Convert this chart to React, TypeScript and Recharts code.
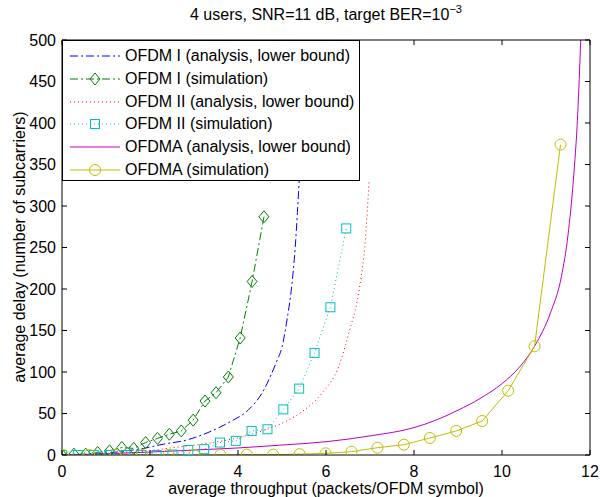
import React from 'react';
import { LineChart, Line, XAxis, YAxis, Legend } from 'recharts';

// values
const ofdm1AnaX = [0, 0.7, 1.3, 1.85, 2.3, 2.83, 3.36, 3.82, 4.23, 4.55, 4.88, 5.0, 5.12, 5.22, 5.3, 5.35, 5.39];
const ofdm1AnaY = [0, 1, 4, 8, 13, 18, 28, 40, 54, 75, 113, 130, 165, 203, 250, 292, 330];

const ofdm1SimX = [0, 0.27, 0.54, 0.81, 1.08, 1.36, 1.63, 1.9, 2.17, 2.44, 2.71, 2.98, 3.25, 3.5, 3.78, 4.05, 4.32, 4.59];
const ofdm1SimY = [0, 1, 1, 3, 5, 9, 8, 15, 20, 25, 29, 42, 65, 75, 94, 141, 209, 287];

const ofdm2AnaX = [0, 1, 2, 2.4, 3.3, 4.1, 4.6, 5.07, 5.5, 5.9, 6.3, 6.55, 6.7, 6.8, 6.88, 6.94, 6.98];
const ofdm2AnaY = [0, 1.5, 5, 8, 14, 22, 30, 40, 54, 74, 108, 153, 183, 215, 250, 295, 331];

const ofdm2SimX = [0, 0.36, 0.72, 1.08, 1.44, 1.8, 2.15, 2.51, 2.87, 3.23, 3.59, 3.95, 4.31, 4.67, 5.03, 5.39, 5.74, 6.1, 6.46];
const ofdm2SimY = [0, 0, 0, 0, 0, 0, 0, 0.5, 6, 7, 15, 17, 29, 31, 55, 80, 123, 178, 273];

const ofdmaAnaX = [0, 1, 2, 3, 4, 5, 6, 7, 8, 8.5, 9, 9.5, 10, 10.4, 10.75, 11.1, 11.35, 11.5, 11.62, 11.72, 11.79];
const ofdmaAnaY = [0, 1.5, 3.5, 6, 8.5, 12, 16, 23, 33, 42, 54, 68, 86, 106, 132, 171, 215, 265, 330, 410, 500];

const ofdmaSimX = [0.02, 0.62, 1.22, 1.82, 2.42, 3.01, 3.6, 4.2, 4.8, 5.4, 5.99, 6.58, 7.17, 7.77, 8.36, 8.96, 9.55, 10.14, 10.74, 11.33];
const ofdmaSimY = [0, 0, 0, 0, 0, 0, 0, 0.5, 0.5, 1, 2, 4, 8.8, 12.4, 20.5, 29, 41, 77.5, 131, 374];

const xTicks = [0, 2, 4, 6, 8, 10, 12];
const yTicks = [0, 50, 100, 150, 200, 250, 300, 350, 400, 450, 500];

const zip = (xs: number[], ys: number[]) => xs.map((x, i) => ({ x, y: ys[i] }));

const FONT = '"Liberation Sans", Arial, Helvetica, sans-serif';

type Marker = 'none' | 'diamond' | 'square' | 'circle';

const series = [
  { name: 'OFDM I (analysis, lower bound)', data: zip(ofdm1AnaX, ofdm1AnaY), color: '#0000ff', dash: '8 3 2 3', marker: 'none' as Marker, curve: 'monotone' },
  { name: 'OFDM I (simulation)', data: zip(ofdm1SimX, ofdm1SimY), color: '#008000', dash: '8 3 2 3', marker: 'diamond' as Marker, curve: 'linear' },
  { name: 'OFDM II (analysis, lower bound)', data: zip(ofdm2AnaX, ofdm2AnaY), color: '#ff0000', dash: '1 3', marker: 'none' as Marker, curve: 'monotone' },
  { name: 'OFDM II (simulation)', data: zip(ofdm2SimX, ofdm2SimY), color: '#00bfbf', dash: '1 3', marker: 'square' as Marker, curve: 'linear' },
  { name: 'OFDMA (analysis, lower bound)', data: zip(ofdmaAnaX, ofdmaAnaY), color: '#bf00bf', dash: undefined, marker: 'none' as Marker, curve: 'monotone' },
  { name: 'OFDMA (simulation)', data: zip(ofdmaSimX, ofdmaSimY), color: '#bfbf00', dash: undefined, marker: 'circle' as Marker, curve: 'linear' },
];

const markerShape = (m: Marker, cx: number, cy: number, color: string, key?: string) => {
  const common = { key, fill: 'none', stroke: color, strokeWidth: 1, strokeDasharray: 'none' };
  if (m === 'diamond') return <path {...common} d={`M${cx},${cy - 6}L${cx + 5},${cy}L${cx},${cy + 6}L${cx - 5},${cy}Z`} />;
  if (m === 'square') return <rect {...common} x={cx - 4.5} y={cy - 4.5} width={9} height={9} />;
  if (m === 'circle') return <circle {...common} cx={cx} cy={cy} r={5.5} />;
  return null;
};

const makeDot = (m: Marker, color: string) => (p: any) => {
  if (p.cx == null || p.cy == null) return <g key={`e${p.index}`} />;
  return markerShape(m, p.cx, p.cy, color, `${m}${p.index}`);
};

const BottomTick = (p: any) => (
  <g>
    <line x1={p.x} y1={p.y} x2={p.x} y2={p.y - 5} stroke="#000" />
    <text x={p.x} y={p.y + 22} textAnchor="middle" fontSize={16} fontFamily={FONT} fill="#000">{p.payload.value}</text>
  </g>
);
const TopTick = (p: any) => <line x1={p.x} y1={p.y} x2={p.x} y2={p.y + 5} stroke="#000" />;
const LeftTick = (p: any) => (
  <g>
    <line x1={p.x} y1={p.y} x2={p.x + 5} y2={p.y} stroke="#000" />
    <text x={p.x - 6} y={p.y} dy="0.36em" textAnchor="end" fontSize={16} fontFamily={FONT} fill="#000">{p.payload.value}</text>
  </g>
);
const RightTick = (p: any) => <line x1={p.x} y1={p.y} x2={p.x - 5} y2={p.y} stroke="#000" />;

const LegendBox = () => (
  <div style={{ boxSizing: 'border-box', width: 298, height: 141, border: '1px solid #000', background: '#fff', paddingTop: 4, fontFamily: FONT, fontSize: 16, color: '#000' }}>
    {series.map((s) => (
      <div key={s.name} style={{ display: 'flex', alignItems: 'center', height: 22.7 }}>
        <svg width={50} height={16} style={{ marginLeft: 7, marginRight: 5, flex: 'none' }}>
          <line x1={0} y1={8} x2={50} y2={8} stroke={s.color} strokeWidth={1} strokeDasharray={s.dash} />
          {markerShape(s.marker, 25, 8, s.color)}
        </svg>
        <span style={{ whiteSpace: 'nowrap' }}>{s.name}</span>
      </div>
    ))}
  </div>
);

const axisCommon = { tickSize: 0, tickMargin: 0, tickLine: false, axisLine: { stroke: '#000' }, interval: 0 as const, allowDataOverflow: true };

export default function App() {
  return (
    <div style={{ position: 'absolute', left: 0, top: 0, width: 600, height: 497, background: '#fff', fontFamily: FONT }}>
      <LineChart width={600} height={497} margin={{ top: 39, right: 9, bottom: 41, left: 61 }}>
        <XAxis dataKey="x" type="number" domain={[0, 12]} ticks={xTicks} height={1} tick={BottomTick} {...axisCommon} />
        <XAxis xAxisId="top" orientation="top" dataKey="x" type="number" domain={[0, 12]} ticks={xTicks} height={1} tick={TopTick} {...axisCommon} />
        <YAxis type="number" domain={[0, 500]} ticks={yTicks} width={1} tick={LeftTick} {...axisCommon} />
        <YAxis yAxisId="right" orientation="right" type="number" domain={[0, 500]} ticks={yTicks} width={1} tick={RightTick} {...axisCommon} />
        {series.map((s) => (
          <Line key={s.name} data={s.data} dataKey="y" name={s.name} type={s.curve as any}
            stroke={s.color} strokeWidth={1} strokeDasharray={s.dash}
            dot={s.marker === 'none' ? false : makeDot(s.marker, s.color)} activeDot={false}
            isAnimationActive={false} />
        ))}
        <Legend layout="vertical" align="center" verticalAlign="middle" content={<LegendBox />}
          wrapperStyle={{ left: 62, top: 40, width: 298, height: 141, bottom: 'auto', right: 'auto' }} />
      </LineChart>
      <div style={{ position: 'absolute', left: 62, top: 5, width: 528, textAlign: 'center', fontSize: 16, lineHeight: '20px' }}>
        4 users, SNR=11 dB, target BER=10<sup style={{ fontSize: 11, verticalAlign: 'baseline', position: 'relative', top: -7 }}>−3</sup>
      </div>
      <div style={{ position: 'absolute', left: 62, top: 480, width: 528, textAlign: 'center', fontSize: 16, lineHeight: '17px' }}>
        average throughput (packets/OFDM symbol)
      </div>
      <div style={{ position: 'absolute', left: 20 - 200, top: 247 - 10, width: 400, textAlign: 'center', fontSize: 16, lineHeight: '20px', transform: 'rotate(-90deg)' }}>
        average delay (number of subcarriers)
      </div>
    </div>
  );
}
